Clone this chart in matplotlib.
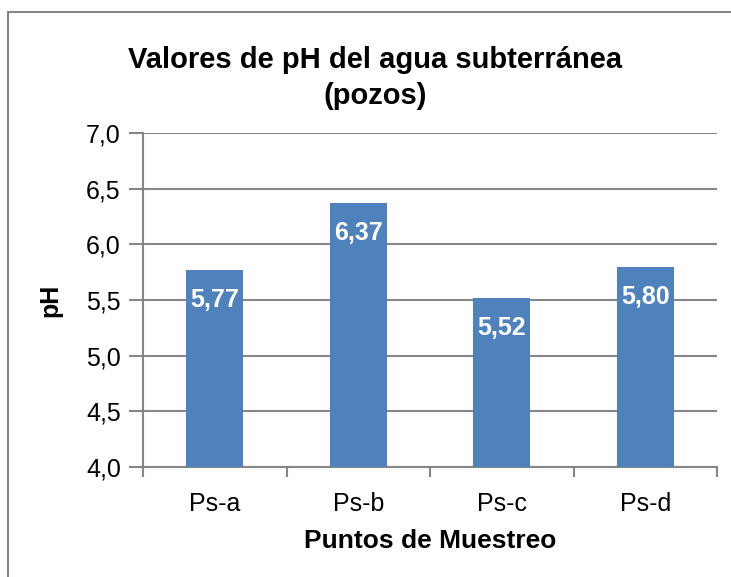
import matplotlib
matplotlib.use("Agg")
import matplotlib.pyplot as plt
from matplotlib.patches import Rectangle
from matplotlib.ticker import FixedLocator, FuncFormatter

plt.rcParams['font.family'] = ['Liberation Sans', 'DejaVu Sans']

# Data
puntos = ["Ps-a", "Ps-b", "Ps-c", "Ps-d"]
ph = [5.77, 6.37, 5.52, 5.80]

bar_color = "#4F81BD"
grid_color = "#868686"

fig = plt.figure(figsize=(7.31, 5.77), dpi=100)
ax = fig.add_axes([143 / 731, 1 - 467 / 577, (717 - 143) / 731, (467 - 133) / 577])

x = list(range(1, len(puntos) + 1))
bars = ax.bar(x, ph, width=0.40, color=bar_color, zorder=3)

# value labels inside the top of each bar
for xi, v in zip(x, ph):
    ax.annotate(f"{v:.2f}".replace(".", ","), xy=(xi, v), xytext=(0, -30),
                textcoords="offset pixels", ha="center", va="center",
                color="white", fontsize=18, fontweight="bold", zorder=4)

ax.set_ylim(4.0, 7.0)
ax.set_xlim(0.5, len(puntos) + 0.5)
ax.set_yticks([4.0, 4.5, 5.0, 5.5, 6.0, 6.5, 7.0])
ax.yaxis.set_major_formatter(FuncFormatter(lambda v, p: f"{v:.1f}".replace(".", ",")))
ax.set_xticks(x)
ax.set_xticklabels(puntos)
ax.xaxis.set_minor_locator(FixedLocator([i + 0.5 for i in range(len(puntos) + 1)]))

ax.grid(axis="y", color=grid_color, linewidth=1.5, zorder=0)
for s in ["top", "right"]:
    ax.spines[s].set_visible(False)
for s in ["left", "bottom"]:
    ax.spines[s].set_color(grid_color)
    ax.spines[s].set_linewidth(1.5)

ax.tick_params(axis="y", length=10, width=1.5, color=grid_color, labelsize=18, pad=6)
ax.tick_params(axis="x", which="major", length=0, labelsize=18, pad=18)
ax.tick_params(axis="x", which="minor", length=7, width=1.5, color=grid_color)

ax.set_xlabel("Puntos de Muestreo", fontsize=19, fontweight="bold", labelpad=9)
ax.set_ylabel("pH", fontsize=18, fontweight="bold", labelpad=17)

# title, two lines
fig.text(375 / 731, 1 - 68 / 577, "Valores de pH del agua subterránea",
         ha="center", va="baseline", fontsize=21, fontweight="bold")
fig.text(375 / 731, 1 - 104 / 577, "(pozos)",
         ha="center", va="baseline", fontsize=21, fontweight="bold")

# chart area border
fig.patches.append(Rectangle((8 / 731, -0.05), 1.0, 0.05 + 1 - 12 / 577,
                             transform=fig.transFigure, fill=False,
                             edgecolor=grid_color, linewidth=1.5))

plt.savefig("out.png", dpi=100)
